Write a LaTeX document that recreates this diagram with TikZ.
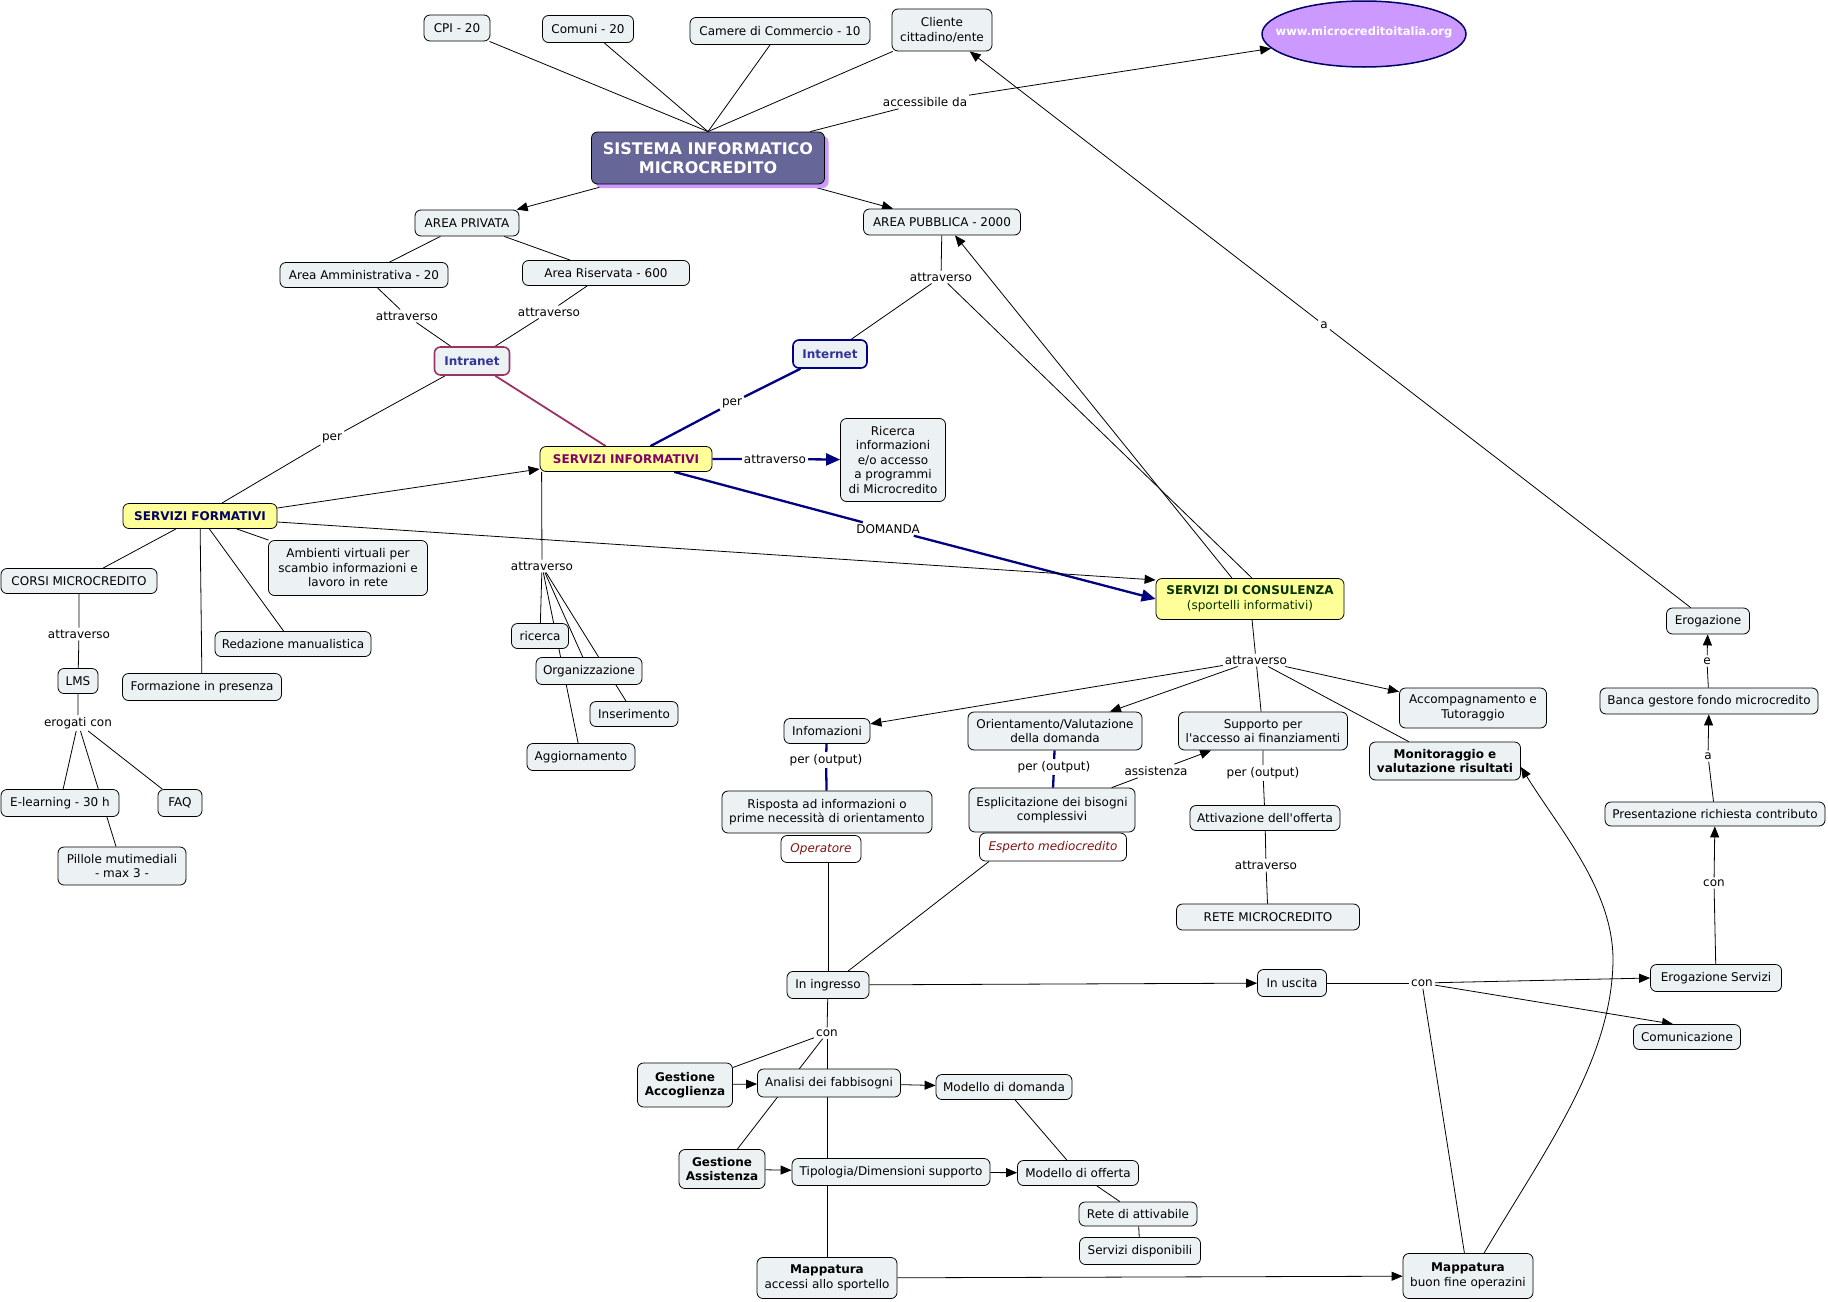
\documentclass[tikz,border=0pt]{standalone}
\usepackage{fontspec}
\setmainfont{DejaVu Sans}
\usetikzlibrary{arrows.meta,shapes.geometric,shadows,calc}
\definecolor{nfill}{RGB}{236,242,244}
\definecolor{yel}{RGB}{255,255,153}
\definecolor{sisc}{RGB}{102,102,153}
\definecolor{shc}{RGB}{204,153,255}
\definecolor{wwwf}{RGB}{204,153,255}
\definecolor{wwwb}{RGB}{0,0,102}
\definecolor{navyc}{RGB}{0,0,128}
\definecolor{intt}{RGB}{51,51,153}
\definecolor{intrab}{RGB}{153,51,102}
\definecolor{sitext}{RGB}{128,0,102}
\definecolor{sftext}{RGB}{0,0,102}
\definecolor{sctext}{RGB}{0,51,0}
\definecolor{redc}{RGB}{128,20,20}
\pgfdeclarelayer{bg}
\pgfsetlayers{bg,main}
\newcommand\fn{\fontsize{12}{14.5}\selectfont}
\tikzset{
 bx/.style 2 args={draw=black, line width=0.8pt, rounded corners=6pt, fill=nfill, align=center, font=\fn, inner xsep=2pt, inner ysep=1pt, minimum width=#1pt, minimum height=#2pt},
 lb/.style={font=\fn, inner sep=2pt},
 ln/.style={line width=0.8pt, draw=black},
 ar/.style={ln, -{Triangle[length=11pt,width=9pt]}},
 nv/.style={line width=2.3pt, draw=navyc},
 nvar/.style={nv, -{Triangle[length=14pt,width=12pt]}, color=navyc},
 yb/.style={fill=yel, font=\fn\bfseries},
 ital/.style={fill=white, text=redc, font=\fn\itshape},
}
\begin{document}
\begin{tikzpicture}[x=1pt,y=-1pt]
\useasboundingbox (0,0) rectangle (1828,1301);
% top
\node[bx={66}{26}] (cpi) at (457,28) {CPI - 20};
\node[bx={91}{27}] (com) at (588,29) {Comuni - 20};
\node[bx={180}{27}] (cam) at (780,31) {Camere di Commercio - 10};
\node[bx={100}{42}] (cli) at (942,30) {Cliente\\cittadino/ente};
\node[ellipse, draw=wwwb, line width=1.5pt, fill=wwwf, minimum width=204pt, minimum height=66pt, inner sep=0pt] (www) at (1364,34) {};
\node[text=white, font=\fontsize{11.5}{13}\selectfont\bfseries] (wwwt) at (1364,32) {www.microcreditoitalia.org};
\node[bx={233}{52}, fill=sisc, text=white, font=\fontsize{16}{19}\selectfont\bfseries, drop shadow={shadow xshift=4pt, shadow yshift=-4pt, fill=shc, opacity=1}] (sis) at (708,158) {SISTEMA INFORMATICO\\MICROCREDITO};
\node[lb] (acc) at (925,102) {accessibile da};
\node[bx={104}{26}] (apriv) at (467,223) {AREA PRIVATA};
\node[bx={157}{26}] (apub) at (942,222) {AREA PUBBLICA - 2000};
\node[bx={168}{25}] (aamm) at (364,275) {Area Amministrativa - 20};
\node[bx={167}{25}] (aris) at (606,273) {Area Riservata - 600};
\node[lb] (att1) at (407,316) {attraverso};
\node[lb] (att2) at (549,312) {attraverso};
\node[bx={75}{28}, draw=intrab, line width=1.6pt, text=intt, font=\fn\bfseries] (intra) at (472,361) {Intranet};
\node[bx={74}{28}, draw=navyc, line width=1.6pt, text=intt, font=\fn\bfseries] (inter) at (830,354) {Internet};
\node[lb] (att3) at (941,277) {attraverso};
\node[lb] (per1) at (732,403) {per};
\node[lb] (per2) at (332,438) {per};
\node[bx={172}{25}, yb, text=sitext] (si) at (626,459) {SERVIZI INFORMATIVI};
\node[lb] (att4) at (775,459) {attraverso};
\node[bx={105}{83}] (ric) at (893,460) {Ricerca\\informazioni\\e/o accesso\\a programmi\\di Microcredito};
\node[lb] (dom) at (888,529) {DOMANDA};
\node[bx={154}{25}, yb, text=sftext] (sf) at (200,516) {SERVIZI FORMATIVI};
\node[bx={188}{41}, fill=yel, text=sctext] (sc) at (1250,599) {\textbf{SERVIZI DI CONSULENZA}\\(sportelli informativi)};
% formativi
\node[bx={156}{25}] (corsi) at (79,581) {CORSI MICROCREDITO};
\node[bx={159}{55}] (amb) at (348,568) {Ambienti virtuali per\\scambio informazioni e\\lavoro in rete};
\node[bx={156}{25}] (red) at (293,644) {Redazione manualistica};
\node[bx={159}{27}] (form) at (202,687) {Formazione in presenza};
\node[lb] (att5) at (79,634) {attraverso};
\node[bx={40}{25}] (lms) at (78,681) {LMS};
\node[lb] (erogc) at (78,723) {erogati con};
\node[bx={118}{27}] (elearn) at (60,803) {E-learning - 30 h};
\node[bx={44}{27}] (faq) at (180,803) {FAQ};
\node[bx={128}{38}] (pill) at (122,866) {Pillole mutimediali\\- max 3 -};
% informativi
\node[lb] (att6) at (542,566) {attraverso};
\node[bx={57}{25}] (ricerca) at (540,636) {ricerca};
\node[bx={106}{27}] (org) at (589,671) {Organizzazione};
\node[bx={88}{25}] (ins) at (634,714) {Inserimento};
\node[bx={108}{27}] (agg) at (581,757) {Aggiornamento};
% consulenza
\node[lb] (att7) at (1256,660) {attraverso};
\node[bx={86}{25}] (info) at (827,731) {Infomazioni};
\node[bx={174}{38}] (orient) at (1055,731) {Orientamento/Valutazione\\della domanda};
\node[bx={169}{38}] (supp) at (1263,731) {Supporto per\\l\textquotesingle accesso ai finanziamenti};
\node[bx={147}{40}] (accomp) at (1473,708) {Accompagnamento e\\Tutoraggio};
\node[bx={151}{38}, font=\fn\bfseries] (monit) at (1445,761) {Monitoraggio e\\valutazione risultati};
\node[lb] (out1) at (826,760) {per (output)};
\node[bx={210}{42}] (risp) at (827,812) {Risposta ad informazioni o\\prime necessità di orientamento};
\node[bx={80}{27}, ital] (oper) at (821,849) {Operatore};
\node[lb] (out2) at (1054,767) {per (output)};
\node[bx={166}{44}] (espl) at (1052,810) {Esplicitazione dei bisogni\\complessivi};
\node[bx={147}{28}, ital] (esp) at (1053,847) {Esperto mediocredito};
\node[lb] (ass) at (1156,771) {assistenza};
\node[lb] (out3) at (1263,773) {per (output)};
\node[bx={150}{25}] (attiv) at (1265,818) {Attivazione dell\textquotesingle offerta};
\node[lb] (att8) at (1266,865) {attraverso};
\node[bx={183}{26}] (rete) at (1268,917) {RETE MICROCREDITO};
% bottom
\node[bx={82}{27}] (ining) at (828,985) {In ingresso};
\node[bx={69}{27}] (inusc) at (1292,983) {In uscita};
\node[lb] (con1) at (1422,983) {con};
\node[bx={131}{27}] (erser) at (1716,978) {Erogazione Servizi};
\node[bx={107}{25}] (comu) at (1687,1037) {Comunicazione};
\node[bx={130}{45}] (mapb) at (1468,1276) {\textbf{Mappatura}\\buon fine operazini};
\node[lb] (con2) at (827,1033) {con};
\node[bx={95}{44}, font=\fn\bfseries] (gacc) at (685,1085) {Gestione\\Accoglienza};
\node[bx={143}{28}] (anal) at (829,1083) {Analisi dei fabbisogni};
\node[bx={136}{25}] (mdom) at (1004,1087) {Modello di domanda};
\node[bx={86}{39}, font=\fn\bfseries] (gass) at (722,1169) {Gestione\\Assistenza};
\node[bx={198}{27}] (tip) at (891,1172) {Tipologia/Dimensioni supporto};
\node[bx={121}{25}] (moff) at (1078,1173) {Modello di offerta};
\node[bx={118}{24}] (retat) at (1138,1214) {Rete di attivabile};
\node[bx={121}{27}] (serv) at (1140,1251) {Servizi disponibili};
\node[bx={140}{41}] (mapa) at (827,1278) {\textbf{Mappatura}\\accessi allo sportello};
% right column
\node[bx={83}{26}] (erog) at (1708,621) {Erogazione};
\node[bx={218}{26}] (banca) at (1709,701) {Banca gestore fondo microcredito};
\node[bx={220}{24}] (pres) at (1715,814) {Presentazione richiesta contributo};
\node[lb] (con3) at (1714,883) {con};
\node[lb] (a1) at (1708,756) {a};
\node[lb] (le) at (1707,661) {e};
\node[lb] (a2) at (1324,325) {a};

\begin{pgfonlayer}{bg}
\fill[white] (0,0) rectangle (1828,1301);
\draw[ln] (cpi) -- (sis.north);
\draw[ln] (com) -- (sis.north);
\draw[ln] (cam) -- (sis.north);
\draw[ln] (cli) -- (sis.north);
\draw[ln] (sis) -- (acc);
\draw[ar] (acc) -- (www);
\draw[ar] (sis) -- (apriv);
\draw[ar] (sis) -- (apub);
\draw[ln] (apriv) -- (aamm);
\draw[ln] (apriv) -- (aris);
\draw[ln] (aamm) -- (att1) -- (intra);
\draw[ln] (aris) -- (att2) -- (intra);
\draw[ln] (apub) -- (att3) -- (inter);
\draw[ln] (att3) -- ([xshift=2pt]sc.north);
\draw[ar] ([xshift=-18pt]sc.north) -- ([xshift=13pt]apub.south);
\draw[nv] (inter) -- (per1) -- (si);
\draw[line width=1.8pt, draw=intrab] (intra) -- (si);
\draw[ln] (intra) -- (per2) -- (sf);
\draw[nvar] (si) -- (att4) -- (ric);
\draw[nvar] (si) -- (dom) -- (sc.west);
\draw[ar] ([yshift=8pt]sf.east) -- ([yshift=-10pt]si.west);
\draw[ar] ([yshift=-6pt]sf.east) -- ([yshift=19pt]sc.west);
\draw[ln] (sf) -- (corsi);
\draw[ln] (sf) -- (amb);
\draw[ln] (sf) -- (red);
\draw[ln] (sf) -- (form);
\draw[ln] (corsi) -- (att5) -- (lms) -- (erogc);
\draw[ln] (erogc) -- (elearn);
\draw[ln] (erogc) -- (faq);
\draw[ln] (erogc) -- (pill);
\draw[ln] ([xshift=2pt]si.south west) -- (att6);
\draw[ln] (att6) -- (ricerca);
\draw[ln] (att6) -- (org);
\draw[ln] (att6) -- (ins);
\draw[ln] (att6) -- (agg);
\draw[ln] (sc) -- (att7);
\draw[ar] (att7) -- (info);
\draw[ar] (att7) -- (orient);
\draw[ln] (att7) -- (supp);
\draw[ln] (att7) -- (monit);
\draw[ar] (att7) -- (accomp);
\draw[nv] (info) -- (out1) -- (risp);
\draw[nv] (orient) -- (out2) -- (espl);
\draw[ln] (espl) -- (ass);
\draw[ar] (ass) -- (supp);
\draw[ln] (supp) -- (out3) -- (attiv) -- (att8) -- (rete);
\draw[ln] (ining.north |- oper.south) -- (ining.north);
\draw[ln] ([xshift=10pt]esp.south west) -- ([xshift=20pt]ining.north);
\draw[ar] (ining) -- (inusc);
\draw[ln] (inusc) -- (con1);
\draw[ar] (con1) -- (erser.west);
\draw[ar] (con1) -- ([xshift=-14pt]comu.north);
\draw[ln] (con1) -- (mapb);
\draw[ar] ([xshift=16pt]mapb.north) .. controls (1545,1150) and (1612,1060) .. (1613,960) .. controls (1613,890) and (1560,830) .. ([yshift=-6pt]monit.east);
\draw[ln] (ining) -- (con2);
\draw[ln] (con2) -- (gacc);
\draw[ln] (con2) -- (gass);
\draw[ln] (con2) -- (mapa);
\draw[ar] (gacc) -- (anal);
\draw[ar] (anal) -- (mdom);
\draw[ar] (gass) -- (tip);
\draw[ar] (tip) -- (moff);
\draw[ar] (mapa) -- (mapb);
\draw[ln] (mdom) -- (moff);
\draw[ln] (moff) -- (retat);
\draw[ln] (retat) -- (serv);
\draw[ln] (erser) -- (con3);
\draw[ar] (con3) -- (pres);
\draw[ln] (pres) -- (a1);
\draw[ar] (a1) -- (banca);
\draw[ln] (banca) -- (le);
\draw[ar] (le) -- (erog);
\draw[ln] (erog) -- (a2);
\draw[ar] (a2) -- (cli);
\end{pgfonlayer}
\end{tikzpicture}
\end{document}
